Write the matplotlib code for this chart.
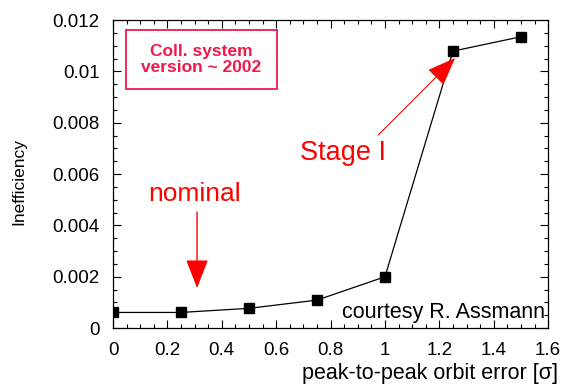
import numpy as np
import matplotlib
matplotlib.use('Agg')
from matplotlib import pyplot as plt
from matplotlib.patches import Rectangle
from matplotlib.ticker import MultipleLocator, FormatStrFormatter

plt.rcParams['font.family'] = ['Liberation Sans', 'DejaVu Sans']

# peak-to-peak orbit error [sigma] vs inefficiency
orbit_error = [0.0, 0.25, 0.5, 0.75, 1.0, 1.25, 1.5]
inefficiency = [0.00061, 0.00061, 0.00077, 0.00109, 0.0020, 0.01079, 0.01135]

RED = '#f0194b'

fig = plt.figure(figsize=(5.68, 3.86), dpi=100)
ax = fig.add_axes([0.199, 0.150, 0.766, 0.798])

ax.plot(orbit_error, inefficiency, color='black', lw=0.9,
        marker='s', markersize=7.2, markerfacecolor='black', markeredgecolor='black')

ax.set_xlim(0, 1.6)
ax.set_ylim(0, 0.012)
ax.xaxis.set_major_locator(MultipleLocator(0.2))
ax.xaxis.set_minor_locator(MultipleLocator(0.05))
ax.yaxis.set_major_locator(MultipleLocator(0.002))
ax.yaxis.set_minor_locator(MultipleLocator(0.0005))
ax.xaxis.set_major_formatter(FormatStrFormatter('%g'))
ax.yaxis.set_major_formatter(FormatStrFormatter('%g'))
ax.tick_params(which='both', direction='in', top=True, right=True, labelsize=13.5, width=0.8)
ax.tick_params(which='major', length=6)
ax.tick_params(axis='y', which='major', pad=9.5)
ax.tick_params(axis='x', which='major', pad=10)
ax.tick_params(which='minor', length=3)
for s in ax.spines.values():
    s.set_linewidth(0.9)

ax.set_ylabel('Inefficiency', fontsize=12.5)
ax.yaxis.set_label_coords(-0.2, 0.477)
ax.set_xlabel('peak-to-peak orbit error [σ]', fontsize=15.5)
ax.xaxis.set_label_coords(1.023, -0.112)
ax.xaxis.label.set_horizontalalignment('right')

# box
ax.add_patch(Rectangle((0.030, 0.776), 0.347, 0.192, transform=ax.transAxes,
                       fill=False, edgecolor=RED, lw=1.3))
ax.text(0.203, 0.872, 'Coll. system\nversion ~ 2002', transform=ax.transAxes,
        ha='center', va='center', color=RED, fontsize=12.5, fontweight='bold',
        linespacing=1.15)

# annotations
ax.annotate('', xy=(0.309, 0.00156), xytext=(0.309, 0.00452),
            arrowprops=dict(arrowstyle='-|>,head_length=0.9,head_width=0.35',
                            color='red', lw=1.0, mutation_scale=20, shrinkA=0, shrinkB=0))
ax.text(0.30, 0.00495, 'nominal', color='red', fontsize=19, ha='center', va='baseline')

ax.annotate('', xy=(1.258, 0.01052), xytext=(0.975, 0.00752),
            arrowprops=dict(arrowstyle='-|>,head_length=0.9,head_width=0.35',
                            color='red', lw=0.8, mutation_scale=20, shrinkA=0, shrinkB=0))
ax.text(0.688, 0.00655, 'Stage I', color='red', fontsize=19.5, ha='left', va='baseline')

ax.text(1.59, 0.00038, 'courtesy R. Assmann', color='black', fontsize=15.5,
        ha='right', va='baseline')

fig.savefig('out.png', dpi=100)
